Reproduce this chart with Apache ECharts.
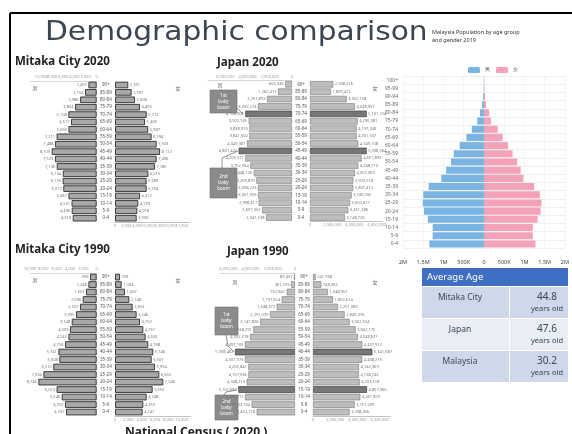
<!DOCTYPE html>
<html>
<head>
<meta charset="utf-8">
<script src="https://cdn.jsdelivr.net/npm/echarts@6/dist/echarts.min.js"></script>
<style>
  html, body { margin: 0; padding: 0; background: #fff; }
  #chart { width: 572px; height: 434px; }
</style>
</head>
<body>
<div id="chart"></div>
<script>
// age groups, youngest first (category axis draws the first one at the bottom)
var ages19 = ['0-4','5-9','10-14','15-19','20-24','25-29','30-34','35-39','40-44','45-49',
  '50-54','55-59','60-64','65-69','70-74','75-79','80-84','85-89','90+'];
var ages21 = ['0-4','5-9','10-14','15-19','20-24','25-29','30-34','35-39','40-44','45-49',
  '50-54','55-59','60-64','65-69','70-74','75-79','80-84','85-89','90-94','95-99','100+'];

// Mitaka City 2020 (persons)
var mitaka2020Male = [4318, 4496, 4531, 5087, 6012, 6135, 6104, 7196, 7523, 8109,
  7488, 7211, 5093, 4617, 5108, 3894, 2986, 2104, 1497];
var mitaka2020Female = [3906, 4018, 4193, 4512, 5704, 5689, 6013, 7185, 7496, 8112,
  7503, 6594, 5987, 5406, 5712, 4493, 3608, 2997, 2391];

// Mitaka City 1990
var mitaka1990Male = [4597, 4752, 5246, 6013, 8746, 7994, 6512, 5608, 5741, 4756,
  4243, 4009, 3748, 3095, 2507, 2096, 1603, 1248, 996];
var mitaka1990Female = [4147, 4253, 4748, 5652, 7246, 6655, 5994, 5507, 5746, 4998,
  4603, 4251, 3752, 3246, 2653, 2148, 1497, 1004, 753];

// Japan 2020
var japan2020Male = [2341538, 2697352, 2998417, 3061905, 3058223, 3209870, 3448126, 3752064, 4203917, 4801442,
  4049381, 3841602, 3838910, 3902745, 4198306, 3059274, 2251893, 1262417, 602345];
var japan2020Female = [3148720, 3451286, 3602417, 3749035, 3897412, 3903518, 4052369, 4348710, 4651893, 5098264,
  4349108, 4201537, 4197246, 4290381, 5101724, 4048957, 3302158, 1893472, 2098316];
var japan2020Boom = ['45-49', '70-74'];

// Japan 1990
var japan1990Male = [3452718, 3903164, 4498312, 5102687, 4348219, 4197536, 4203841, 4501973, 5398462, 4497105,
  4052318, 3748291, 3147826, 2251039, 1648372, 1197604, 752841, 361209, 89437];
var japan1990Female = [3298456, 3751209, 4261873, 4857360, 4203518, 4138742, 4142069, 4438215, 5341687, 4437912,
  4048631, 3842175, 3301924, 2849376, 2251083, 1802614, 1348957, 748302, 241768];
var japan1990Boom = ['15-19', '40-44'];

// Malaysia 2019 (persons)
var malaysiaMale = [1347000, 1267000, 1267000, 1387000, 1480000, 1513000, 1500000, 1367000, 1053000, 933000,
  813000, 747000, 600000, 433000, 300000, 167000, 100000, 47000, 20000, 8000, 3000];
var malaysiaFemale = [1273000, 1207000, 1207000, 1327000, 1400000, 1420000, 1380000, 1240000, 973000, 907000,
  820000, 707000, 593000, 460000, 340000, 173000, 127000, 53000, 27000, 10000, 4000];

// average age table
var avgPlaces = ['Mitaka City', 'Japan', 'Malaysia'];
var avgAges = ['44.8', '47.6', '30.2'];

var chart = echarts.init(document.getElementById('chart'), null, { renderer: 'canvas' });

function fmt(v) { return Math.abs(v).toLocaleString('en-US'); }

var grid = [], xAxis = [], yAxis = [], series = [];

function sideBar(g, vals, side, p) {
  return {
    type: 'bar', name: side, xAxisIndex: g, yAxisIndex: g,
    barCategoryGap: p.gap, silent: true,
    data: vals.map(function (v, i) {
      if (p.boom && p.boom.indexOf(ages19[i]) >= 0) {
        return { value: v, itemStyle: { color: '#777', borderColor: '#3f3f3f' } };
      }
      return v;
    }),
    itemStyle: { color: p.fill, borderColor: p.stroke, borderWidth: p.bw },
    label: {
      show: true, position: side, distance: 1.5, fontSize: 4, color: '#777',
      formatter: function (d) { return fmt(d.value); }
    }
  };
}

function addPyramid(p) {
  var g = grid.length;
  grid.push({ left: p.x0, top: p.top, width: p.c0 - p.x0, height: p.h });
  grid.push({ left: p.c1, top: p.top, width: p.x1 - p.c1, height: p.h });
  var lbl = { fontSize: 4, color: '#999', margin: 2, formatter: fmt };
  xAxis.push({
    gridIndex: g, type: 'value', inverse: true, min: 0, max: p.maxL, interval: p.step, position: 'top',
    axisLine: { show: true, lineStyle: { color: '#bbb', width: 0.6 } },
    axisTick: { show: false }, splitLine: { show: false }, axisLabel: lbl
  });
  xAxis.push({
    gridIndex: g + 1, type: 'value', min: 0, max: p.maxR, interval: p.step, position: 'bottom',
    axisLine: { show: true, lineStyle: { color: '#999', width: 0.6 } },
    axisTick: { show: false }, splitLine: { show: false }, axisLabel: lbl
  });
  yAxis.push({
    gridIndex: g, type: 'category', data: ages19, position: 'right',
    axisLine: { show: false }, axisTick: { show: false },
    axisLabel: { fontSize: 4.5, color: '#555', align: 'center', margin: (p.c1 - p.c0) / 2 }
  });
  yAxis.push({
    gridIndex: g + 1, type: 'category', data: ages19,
    axisLine: { show: false }, axisTick: { show: false }, axisLabel: { show: false }
  });
  series.push(sideBar(g, p.male, 'left', p));
  series.push(sideBar(g + 1, p.female, 'right', p));
}

var mitakaStyle = { fill: '#a8a8a8', stroke: '#3c3c3c', bw: 1, gap: '10%' };
var japanStyle = { fill: '#bdbdbd', stroke: '#858585', bw: 0.7, gap: '12%' };

function withStyle(p, s) {
  p.fill = s.fill; p.stroke = s.stroke; p.bw = s.bw; p.gap = s.gap;
  return p;
}

addPyramid(withStyle({ x0: 30, c0: 96.7, c1: 115, x1: 190, top: 81.3, h: 140.6, maxL: 12000, maxR: 13500, step: 2000,
  male: mitaka2020Male, female: mitaka2020Female }, mitakaStyle));
addPyramid(withStyle({ x0: 208, c0: 292, c1: 310, x1: 382, top: 80.6, h: 140.6, maxL: 7560000, maxR: 6480000, step: 2000000,
  male: japan2020Male, female: japan2020Female, boom: japan2020Boom }, japanStyle));
addPyramid(withStyle({ x0: 30, c0: 96.7, c1: 115, x1: 190, top: 273.3, h: 142.5, maxL: 10000, maxR: 11250, step: 2000,
  male: mitaka1990Male, female: mitaka1990Female }, mitakaStyle));
addPyramid(withStyle({ x0: 220, c0: 295, c1: 313, x1: 390, top: 273.3, h: 142.5, maxL: 6750000, maxR: 6930000, step: 2000000,
  male: japan1990Male, female: japan1990Female, boom: japan1990Boom }, japanStyle));

// Malaysia pyramid
var gm = grid.length;
grid.push({ left: 403, top: 76, width: 200, height: 172 });
xAxis.push({
  gridIndex: gm, type: 'value', min: -2000000, max: 2000000, interval: 500000,
  axisLine: { show: false }, axisTick: { show: false },
  splitLine: { show: true, lineStyle: { color: '#ececec', width: 0.6 } },
  axisLabel: {
    fontSize: 5.5, color: '#444', margin: 11,
    formatter: function (v) {
      v = Math.abs(v);
      if (v === 0) return '0';
      return v >= 1000000 ? (v / 1000000) + 'M' : (v / 1000) + 'K';
    }
  }
});
yAxis.push({
  gridIndex: gm, type: 'category', data: ages21,
  axisLine: { show: true, lineStyle: { color: '#ddd', width: 0.6 } }, axisTick: { show: false },
  splitLine: { show: true, lineStyle: { color: '#e4e4e4', width: 0.6 } },
  axisLabel: { fontSize: 5, color: '#666', margin: 5 }
});
series.push({
  type: 'bar', name: '男', xAxisIndex: gm, yAxisIndex: gm, stack: 'my', barCategoryGap: '14%', silent: true,
  itemStyle: { color: '#79b4e2' },
  data: malaysiaMale.map(function (v) { return -v; })
});
series.push({
  type: 'bar', name: '女', xAxisIndex: gm, yAxisIndex: gm, stack: 'my', barCategoryGap: '14%', silent: true,
  itemStyle: { color: '#f3a2b8' },
  data: malaysiaFemale
});

// slide decorations: frame, titles, notes, table
var ink = '#3c4652';
var graphic = [
  { type: 'line', shape: { x1: 10, y1: 13, x2: 10, y2: 434 }, style: { stroke: '#000', lineWidth: 2 } },
  { type: 'line', shape: { x1: 10, y1: 13, x2: 572, y2: 13 }, style: { stroke: '#000', lineWidth: 2 } },
  { type: 'text', x: 45, y: 33, scaleX: 1.1, style: { text: 'Demographic comparison', font: '27px "DejaVu Sans"', fill: ink, textVerticalAlign: 'middle' } },
  { type: 'text', x: 432, y: 32, style: { text: 'Malaysia Population by age group', font: '5.5px "Noto Sans"', fill: '#333', textVerticalAlign: 'middle' } },
  { type: 'text', x: 432, y: 40, style: { text: 'and gender 2019', font: '5.5px "Noto Sans"', fill: '#333', textVerticalAlign: 'middle' } },
  { type: 'text', x: 15, y: 62, style: { text: 'Mitaka City 2020', font: 'bold 11.5px "Noto Sans"', fill: '#222', textVerticalAlign: 'middle' } },
  { type: 'text', x: 217, y: 63, style: { text: 'Japan 2020', font: 'bold 11.5px "Noto Sans"', fill: '#222', textVerticalAlign: 'middle' } },
  { type: 'text', x: 15, y: 250, style: { text: 'Mitaka City 1990', font: 'bold 11.5px "Noto Sans"', fill: '#222', textVerticalAlign: 'middle' } },
  { type: 'text', x: 227, y: 252, style: { text: 'Japan 1990', font: 'bold 11.5px "Noto Sans"', fill: '#222', textVerticalAlign: 'middle' } },
  { type: 'text', x: 125, y: 427, style: { text: 'National Census ( 2020 )', font: 'bold 12px "Noto Sans"', fill: '#222', textVerticalAlign: 'top' } }
];

// 男 / 女 marks at the top corners of each small pyramid
[[35, 88, 178, 88], [220, 85, 375, 88], [35, 280, 178, 280], [235, 282, 375, 282]].forEach(function (m) {
  graphic.push({ type: 'text', x: m[0], y: m[1], style: { text: '男', font: '5px "Noto Sans CJK JP"', fill: '#666', textAlign: 'center', textVerticalAlign: 'middle' } });
  graphic.push({ type: 'text', x: m[2], y: m[3], style: { text: '女', font: '5px "Noto Sans CJK JP"', fill: '#666', textAlign: 'center', textVerticalAlign: 'middle' } });
});

// baby boom callouts
[
  { r: [210, 90, 27, 23], line: [[237, 108], [243, 114]], t: '1st\nbaby\nboom' },
  { r: [210, 168, 27, 30], line: [[222, 168], [222, 158], [238, 151]], t: '2nd\nbaby\nboom' },
  { r: [215, 307, 23, 28], line: [[226, 335], [228, 346], [234, 352]], t: '1st\nbaby\nboom' },
  { r: [215, 395, 23, 25], line: [[224, 395], [226, 392], [237, 390]], t: '2nd\nbaby\nboom' }
].forEach(function (c) {
  graphic.push({ type: 'rect', shape: { x: c.r[0], y: c.r[1], width: c.r[2], height: c.r[3] }, style: { fill: '#8b8b8b', stroke: '#6f6f6f', lineWidth: 0.6 } });
  graphic.push({ type: 'polyline', shape: { points: c.line }, style: { stroke: '#777', lineWidth: 0.8, fill: null } });
  graphic.push({ type: 'text', x: c.r[0] + c.r[2] / 2, y: c.r[1] + c.r[3] / 2, style: { text: c.t, font: '4.5px "Noto Sans"', fill: '#fff', textAlign: 'center', textVerticalAlign: 'middle', lineHeight: 6 } });
});

// average age table
graphic.push({ type: 'rect', shape: { x: 422, y: 268, width: 146, height: 18 }, style: { fill: '#3f6fc2' } });
graphic.push({ type: 'text', x: 427, y: 277, style: { text: 'Average Age', font: '9.5px "Noto Sans"', fill: '#fff', textVerticalAlign: 'middle' } });
var rowTop = [286, 318, 350];
var rowFill = ['#cfd8e9', '#e9edf5', '#cfd8e9'];
avgPlaces.forEach(function (name, i) {
  var y = rowTop[i];
  graphic.push({ type: 'rect', shape: { x: 422, y: y + 1, width: 87, height: 31 }, style: { fill: rowFill[i] } });
  graphic.push({ type: 'rect', shape: { x: 510, y: y + 1, width: 58, height: 31 }, style: { fill: rowFill[i] } });
  graphic.push({ type: 'text', x: 460, y: y + 12, style: { text: name, font: '8.5px "Noto Sans"', fill: ink, textAlign: 'center', textVerticalAlign: 'middle' } });
  graphic.push({ type: 'text', x: 547, y: y + 11, style: { text: avgAges[i], font: '10px "Noto Sans"', fill: ink, textAlign: 'center', textVerticalAlign: 'middle' } });
  graphic.push({ type: 'text', x: 547, y: y + 23, style: { text: 'years old', font: '7.5px "Noto Sans"', fill: ink, textAlign: 'center', textVerticalAlign: 'middle' } });
});

var option = {
  animation: false,
  backgroundColor: '#fff',
  textStyle: { fontFamily: '"Noto Sans", sans-serif' },
  legend: {
    data: ['男', '女'], left: 463, top: 62, itemWidth: 12, itemHeight: 6, itemGap: 6,
    textStyle: { fontSize: 5, color: '#555' }, selectedMode: false
  },
  grid: grid,
  xAxis: xAxis,
  yAxis: yAxis,
  series: series,
  graphic: graphic
};
chart.setOption(option);
</script>
</body>
</html>
